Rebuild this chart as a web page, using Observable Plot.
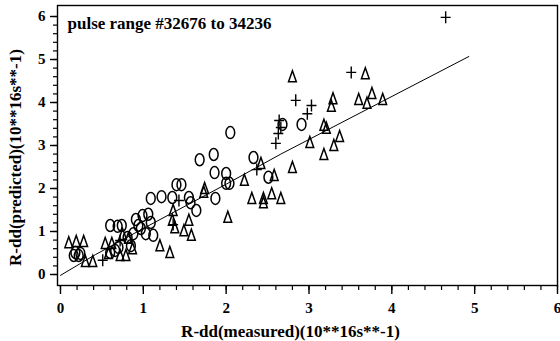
<!DOCTYPE html>
<html>
<head>
<meta charset="utf-8">
<script src="https://cdn.jsdelivr.net/npm/d3@7"></script>
<script src="https://cdn.jsdelivr.net/npm/@observablehq/plot@0.6"></script>
<style>
  html, body { margin: 0; padding: 0; background: #fff; }
</style>
</head>
<body>
<div id="chart"></div>
<script>
// ---- data ----
const titleText = "pulse range #32676 to 34236";
const xLabel = "R-dd(measured)(10**16s**-1)";
const yLabel = "R-dd(predicted)(10**16s**-1)";
const majorTicks = [0, 1, 2, 3, 4, 5, 6];
const minorTicks = d3.range(0, 6.001, 0.2);

const circleX = [1.68,1.85,2.05,2.33,2.91,2.68,2.51,1.86,2.00,2.00,2.04,1.40,1.46,1.09,1.22,1.35,1.55,1.57,1.87,1.64,0.99,1.09,1.03,1.12,0.60,0.69,0.74,0.60,0.66,0.81,0.88,0.97,0.91,0.94,0.16,0.22,0.24,0.18,0.85,0.70,1.06];
const circleY = [2.67,2.79,3.30,2.72,3.49,3.49,2.26,2.37,2.35,2.12,2.12,2.09,2.09,1.77,1.81,1.79,1.79,1.67,1.77,1.49,1.37,1.21,0.95,0.91,1.14,1.12,1.14,0.51,0.56,0.86,0.95,1.07,1.28,1.14,0.44,0.44,0.49,0.51,0.67,0.63,1.40];

const triangleX = [2.80,3.68,3.29,3.27,3.60,3.76,3.70,3.89,3.18,3.21,3.01,3.37,3.30,3.18,2.80,2.42,2.22,2.58,2.31,2.45,2.45,2.55,2.66,1.74,1.73,2.02,1.36,1.35,1.38,1.55,1.49,1.58,1.20,1.32,0.10,0.19,0.28,0.30,0.39,0.54,0.62,0.79,0.87,0.58,0.72,0.75,0.82];
const triangleY = [4.60,4.67,4.09,3.91,4.07,4.21,3.98,4.07,3.47,3.40,3.07,3.21,3.00,2.79,2.49,2.58,2.19,2.30,1.77,1.77,1.67,1.88,1.77,2.00,1.91,1.33,1.49,1.26,1.09,1.26,1.02,0.91,0.67,0.51,0.74,0.77,0.77,0.30,0.30,0.72,0.72,0.44,0.60,0.49,0.44,0.93,0.84];

const crossX = [4.65,3.51,2.84,3.03,2.98,2.64,2.66,2.63,2.60,2.37,0.51,1.36,0.72,1.43];
const crossY = [5.98,4.70,4.05,3.93,3.74,3.58,3.42,3.28,3.05,2.44,0.33,1.16,0.79,1.72];

const fitX = [0, 0.42, 1, 2, 2.66, 3.89, 4.93];
const fitY = [-0.02, 0.46, 1.07, 2.10, 2.80, 4.03, 5.07];

// ---- tables ----
const circles = circleX.map((x, i) => ({x, y: circleY[i]}));
const triangles = triangleX.map((x, i) => ({x, y: triangleY[i]}));
const crosses = crossX.map((x, i) => ({x, y: crossY[i]}));
const fit = fitX.map((x, i) => ({x, y: fitY[i]}));

// ---- custom symbols ----
const ellipse = {
  draw(ctx) {
    const rx = 4.4, ry = 6, k = 0.5523;
    ctx.moveTo(0, -ry);
    ctx.bezierCurveTo(k * rx, -ry, rx, -k * ry, rx, 0);
    ctx.bezierCurveTo(rx, k * ry, k * rx, ry, 0, ry);
    ctx.bezierCurveTo(-k * rx, ry, -rx, k * ry, -rx, 0);
    ctx.bezierCurveTo(-rx, -k * ry, -k * rx, -ry, 0, -ry);
    ctx.closePath();
  }
};
const tallTriangle = {
  draw(ctx) {
    ctx.moveTo(0, -6);
    ctx.lineTo(3.9, 5);
    ctx.lineTo(-3.9, 5);
    ctx.closePath();
  }
};
const plus = {
  draw(ctx) {
    ctx.moveTo(-5, 0); ctx.lineTo(5, 0);
    ctx.moveTo(0, -6); ctx.lineTo(0, 6);
  }
};

const font = "'Liberation Serif', 'Times New Roman', serif";

const chart = Plot.plot({
  width: 560,
  height: 341,
  marginLeft: 57,
  marginRight: 3,
  marginTop: 5,
  marginBottom: 56,
  style: {fontFamily: font, fontSize: "15px", fontWeight: "bold", color: "#000", background: "#fff"},
  x: {domain: [-0.036, 6.0]},
  y: {domain: [-0.256, 6.256]},
  marks: [
    Plot.frame({stroke: "#000", strokeWidth: 1.4}),
    Plot.axisX({ticks: minorTicks, tickSize: 5, tickFormat: () => "", label: null, strokeWidth: 1.2}),
    Plot.axisX({ticks: majorTicks, tickSize: 9, tickPadding: 8, tickFormat: d3.format("d"), label: null, strokeWidth: 1.4, fontSize: 15}),
    Plot.axisY({ticks: minorTicks, tickSize: 4, tickFormat: () => "", label: null, strokeWidth: 1.2}),
    Plot.axisY({ticks: majorTicks, tickSize: 7, tickPadding: 5, tickFormat: d3.format("d"), label: null, strokeWidth: 1.4, fontSize: 15}),
    Plot.line(fit, {x: "x", y: "y", stroke: "#000", strokeWidth: 1}),
    Plot.dot(circles, {x: "x", y: "y", symbol: ellipse, stroke: "#000", fill: "none", strokeWidth: 1.5}),
    Plot.dot(triangles, {x: "x", y: "y", symbol: tallTriangle, stroke: "#000", fill: "none", strokeWidth: 1.5}),
    Plot.dot(crosses, {x: "x", y: "y", symbol: plus, stroke: "#000", fill: "none", strokeWidth: 1.4}),
    Plot.text([titleText], {frameAnchor: "top-left", dx: 10, dy: 18, lineAnchor: "middle", textAnchor: "start", fontSize: 17, fontWeight: "bold", fill: "#000"}),
    Plot.text([xLabel], {frameAnchor: "bottom", dx: -17, dy: 46, lineAnchor: "middle", textAnchor: "middle", fontSize: 17, fontWeight: "bold", fill: "#000"}),
    Plot.text([yLabel], {frameAnchor: "left", rotate: -90, dx: -42, dy: 12, lineAnchor: "middle", textAnchor: "middle", fontSize: 17, fontWeight: "bold", fill: "#000"})
  ]
});
document.getElementById("chart").appendChild(chart);
</script>
</body>
</html>
